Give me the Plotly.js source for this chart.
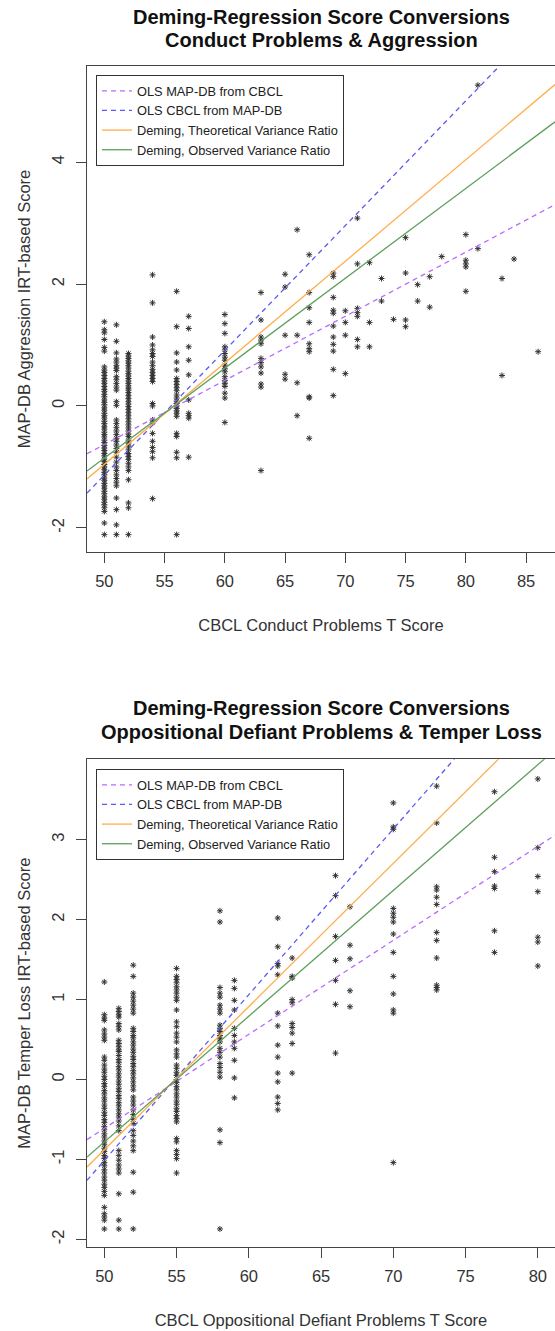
<!DOCTYPE html>
<html>
<head>
<meta charset="utf-8">
<script src="https://cdn.plot.ly/plotly-3.0.1.min.js"></script>
<style>html,body{margin:0;padding:0;overflow:hidden;background:#fff}</style>
</head>
<body>
<div id="chart" style="width:555px;height:1331px"></div>
<script>
// ---------- Panel 1: Conduct Problems & Aggression ----------
const cpCols = [50, 51, 52, 54, 56, 57, 60, 63, 65, 66, 67, 69, 70, 71, 72, 73, 74, 75, 76, 77, 78, 80, 81, 83, 84, 86];
const cpVals = [
  [1.38,1.25,1.20,1.09,0.96,0.90,0.64,0.59,0.55,0.50,0.45,0.41,0.37,0.32,0.27,0.24,0.19,0.15,0.10,0.06,0.02,-0.03,-0.07,-0.12,-0.16,-0.20,-0.25,-0.29,-0.34,-0.38,-0.43,-0.47,-0.51,-0.56,-0.60,-0.65,-0.69,-0.73,-0.78,-0.82,-0.87,-0.91,-0.96,-1.00,-1.04,-1.09,-1.13,-1.18,-1.22,-1.27,-1.31,-1.35,-1.40,-1.44,-1.49,-1.53,-1.58,-1.62,-1.67,-1.73,-1.92,-2.11],
  [1.33,1.06,0.87,0.77,0.72,0.66,0.62,0.58,0.48,0.43,0.37,0.31,0.26,0.07,0.01,-0.23,-0.29,-0.35,-0.41,-0.47,-0.53,-0.58,-0.64,-0.70,-0.76,-0.84,-0.92,-1.00,-1.06,-1.13,-1.19,-1.25,-1.31,-1.51,-1.70,-1.95,-2.11],
  [0.86,0.82,0.78,0.74,0.70,0.66,0.62,0.57,0.53,0.49,0.45,0.41,0.37,0.33,0.29,0.26,0.22,0.17,0.12,0.07,0.03,-0.01,-0.06,-0.11,-0.16,-0.21,-0.26,-0.31,-0.36,-0.41,-0.46,-0.50,-0.56,-0.61,-0.66,-0.72,-0.78,-0.83,-0.88,-0.94,-1.00,-1.06,-1.21,-1.59,-1.67,-2.11],
  [2.15,1.69,1.13,1.00,0.92,0.86,0.81,0.72,0.66,0.60,0.55,0.50,0.45,0.40,0.04,0.00,-0.23,-0.28,-0.45,-0.58,-0.68,-0.75,-0.85,-1.52],
  [1.88,1.30,0.87,0.72,0.59,0.45,0.40,0.35,0.30,0.25,0.18,0.13,0.08,0.04,0.00,-0.04,-0.08,-0.12,-0.17,-0.45,-0.50,-0.76,-0.85,-2.11],
  [1.47,1.27,0.97,0.75,0.51,0.10,-0.12,-0.16,-0.20,-0.84],
  [1.50,1.35,1.19,0.97,0.92,0.86,0.80,0.75,0.67,0.61,0.56,0.48,0.42,0.37,0.32,0.21,0.13,-0.27],
  [1.86,1.41,1.13,1.08,1.02,0.78,0.71,0.64,0.54,0.36,0.31,-1.06],
  [2.16,1.95,1.16,0.52,0.44],
  [2.89,1.16,0.38,-0.16],
  [2.48,1.86,1.61,1.37,1.02,0.94,0.89,0.15,0.13,-0.53],
  [2.18,2.12,1.78,1.57,1.52,1.31,1.13,1.01,0.90,0.60,0.17],
  [1.56,1.37,1.16,0.53],
  [3.08,2.33,1.60,1.53,1.47,1.09,0.97],
  [2.35,1.37,0.97],
  [2.09,1.72],
  [1.42],
  [2.76,2.18,1.41,1.30],
  [1.99,1.72],
  [2.12,1.62],
  [2.45],
  [2.81,2.39,2.33,2.28,1.88],
  [5.26,2.58],
  [2.09,0.50],
  [2.41],
  [0.89]
];
// regression lines: intercept / slope
const cpIntercepts = [-5.893, -11.364, -9.282, -8.224];
const cpSlopes     = [0.1052, 0.2046, 0.1665, 0.1474];
const cpXRange = [48.56, 87.40];
const cpYRange = [-2.395, 5.575];
const cpXTicks = [50, 55, 60, 65, 70, 75, 80, 85];
const cpYTicks = [-2, 0, 2, 4];

// ---------- Panel 2: Oppositional Defiant Problems & Temper Loss ----------
const odCols = [50, 51, 52, 55, 58, 59, 62, 63, 66, 67, 70, 73, 77, 80];
const odVals = [
  [1.22,0.81,0.77,0.74,0.62,0.57,0.53,0.49,0.28,0.24,0.18,0.13,0.09,0.04,0.00,-0.05,-0.09,-0.14,-0.18,-0.23,-0.27,-0.32,-0.36,-0.41,-0.45,-0.50,-0.54,-0.59,-0.63,-0.68,-0.72,-0.77,-0.81,-0.86,-0.90,-0.95,-0.99,-1.04,-1.08,-1.13,-1.17,-1.22,-1.26,-1.31,-1.35,-1.40,-1.45,-1.60,-1.68,-1.72,-1.76,-1.87],
  [0.89,0.85,0.81,0.78,0.70,0.66,0.62,0.49,0.45,0.41,0.37,0.35,0.30,0.25,0.21,0.16,0.12,0.07,0.03,-0.02,-0.06,-0.11,-0.15,-0.20,-0.24,-0.29,-0.33,-0.38,-0.43,-0.47,-0.52,-0.58,-0.64,-0.89,-0.95,-1.01,-1.07,-1.12,-1.17,-1.43,-1.76,-1.87],
  [1.43,1.29,1.08,1.03,0.98,0.93,0.88,0.83,0.64,0.60,0.55,0.52,0.47,0.43,0.38,0.34,0.29,0.25,0.20,0.16,0.11,0.07,0.02,-0.03,-0.08,-0.13,-0.22,-0.27,-0.32,-0.38,-0.44,-0.50,-0.55,-0.64,-0.70,-0.77,-0.83,-0.89,-1.16,-1.41,-1.87],
  [1.39,1.29,1.25,1.21,1.16,1.12,1.08,1.03,0.99,0.87,0.72,0.66,0.58,0.53,0.47,0.37,0.32,0.28,0.18,0.14,0.09,0.05,0.00,-0.04,-0.09,-0.13,-0.18,-0.22,-0.27,-0.31,-0.36,-0.40,-0.45,-0.49,-0.53,-0.74,-0.78,-0.89,-0.94,-0.99,-1.17],
  [2.11,1.97,1.15,1.08,1.03,0.93,0.88,0.83,0.68,0.64,0.60,0.55,0.51,0.47,0.39,0.34,0.28,0.20,0.15,0.09,0.03,-0.63,-0.79,-1.87],
  [1.24,1.14,0.99,0.87,0.64,0.55,0.47,0.39,0.24,0.02,-0.23],
  [2.02,1.66,1.45,1.42,1.31,0.83,0.67,0.43,0.28,0.08,-0.03,-0.22,-0.30,-0.38],
  [1.52,1.29,1.27,1.00,0.96,0.70,0.65,0.58,0.45,0.08],
  [2.55,2.30,1.79,1.49,1.24,0.94,0.33],
  [2.16,1.68,1.51,1.11,0.91],
  [3.46,3.16,3.13,2.14,2.08,2.03,1.97,1.82,1.59,1.29,1.07,0.87,0.83,-1.04],
  [3.67,3.21,2.41,2.37,2.28,2.19,1.84,1.74,1.52,1.18,1.15,1.12],
  [3.60,2.78,2.60,2.42,2.39,1.86,1.59],
  [3.76,2.90,2.54,2.35,1.78,1.72,1.42]
];
const odIntercepts = [-6.491, -11.383, -9.840, -8.646];
const odSlopes     = [0.1176, 0.2074, 0.1792, 0.1573];
const odXRange = [48.8, 81.19];
const odYRange = [-2.096, 4.006];
const odXTicks = [50, 55, 60, 65, 70, 75, 80];
const odYTicks = [-2, -1, 0, 1, 2, 3];

// ---------- shared labels / styles ----------
const lineNames  = ['OLS MAP-DB from CBCL', 'OLS CBCL from MAP-DB', 'Deming, Theoretical Variance Ratio', 'Deming, Observed Variance Ratio'];
const lineColors = ['#B86BFF', '#5A5AF5', '#FFAE4A', '#5E9F5E'];
const lineDash   = ['5px,4px', '5px,4px', 'solid', 'solid'];

const FONT = 'Liberation Sans, Arial, Helvetica, sans-serif';

function buildPanel(cols, vals, ints, slopes, xr, xa, ya, leg) {
  const xs = [], ys = [];
  cols.forEach((c, i) => vals[i].forEach(v => { xs.push(c); ys.push(v); }));
  const tr = [{
    type: 'scatter', mode: 'markers', x: xs, y: ys, xaxis: xa, yaxis: ya,
    showlegend: false, hoverinfo: 'x+y',
    marker: {symbol: 'asterisk-open', size: 5, color: '#333', line: {width: 1, color: '#2a2a2a'}}
  }];
  ints.forEach((a, k) => {
    tr.push({
      type: 'scatter', mode: 'lines', name: lineNames[k], legend: leg,
      x: [xr[0], xr[1]], y: [a + slopes[k] * xr[0], a + slopes[k] * xr[1]],
      xaxis: xa, yaxis: ya,
      line: {color: lineColors[k], width: 1.3, dash: lineDash[k]}
    });
  });
  return tr;
}

const data = [].concat(
  buildPanel(cpCols, cpVals, cpIntercepts, cpSlopes, cpXRange, 'x', 'y', 'legend'),
  buildPanel(odCols, odVals, odIntercepts, odSlopes, odXRange, 'x2', 'y2', 'legend2')
);

function xAxis(range, ticks, title, anchor) {
  return {
    anchor: anchor, domain: [0, 1], range: range, tickvals: ticks, ticktext: ticks.map(String),
    showline: true, mirror: true, linecolor: '#444', linewidth: 1,
    ticks: 'outside', ticklen: 10, tickwidth: 1, tickcolor: '#444', ticklabelstandoff: 4,
    showgrid: false, zeroline: false,
    tickfont: {family: FONT, size: 16.5, color: '#333'},
    title: {text: title, font: {family: FONT, size: 16.5, color: '#333'}, standoff: 30}
  };
}
function yAxis(range, ticks, title, domain, anchor) {
  return {
    anchor: anchor, domain: domain, range: range, tickvals: ticks, ticktext: ticks.map(String),
    showline: true, mirror: false, linecolor: '#444', linewidth: 1,
    ticks: 'outside', ticklen: 10, tickwidth: 1, tickcolor: '#444', tickangle: -90, ticklabelstandoff: 5,
    showgrid: false, zeroline: false,
    tickfont: {family: FONT, size: 16.5, color: '#333'},
    title: {text: title, font: {family: FONT, size: 16.5, color: '#333'}, standoff: 14}
  };
}

const H = 1331, T = 66, B = 84;
const paperY = px => (H - B - px) / (H - T - B);

const legendStyle = (ytop) => ({
  x: 0.0192, y: ytop, xanchor: 'left', yanchor: 'top',
  bgcolor: 'white', bordercolor: '#333', borderwidth: 1,
  font: {family: FONT, size: 12.8, color: '#222'}, tracegroupgap: 0
});

const titleAnn = (text, px) => ({
  text: '<b>' + text + '</b>', xref: 'paper', yref: 'paper', x: 0.5, y: paperY(px),
  xanchor: 'center', yanchor: 'middle', showarrow: false,
  font: {family: FONT, size: 20, color: '#111'}
});

const layout = {
  width: 555, height: H,
  margin: {l: 87, r: 0, t: T, b: B},
  paper_bgcolor: 'white', plot_bgcolor: 'white',
  showlegend: true,
  xaxis: xAxis(cpXRange, cpXTicks, 'CBCL Conduct Problems T Score', 'y'),
  yaxis: yAxis(cpYRange, cpYTicks, 'MAP-DB Aggression IRT-based Score', [paperY(552), 1], 'x'),
  xaxis2: xAxis(odXRange, odXTicks, 'CBCL Oppositional Defiant Problems T Score', 'y2'),
  yaxis2: yAxis(odYRange, odYTicks, 'MAP-DB Temper Loss IRT-based Score', [0, paperY(759.3)], 'x2'),
  legend: legendStyle(paperY(75)),
  legend2: legendStyle(paperY(769)),
  annotations: [
    titleAnn('Deming-Regression Score Conversions', 17),
    titleAnn('Conduct Problems &amp; Aggression', 40),
    titleAnn('Deming-Regression Score Conversions', 708),
    titleAnn('Oppositional Defiant Problems &amp; Temper Loss', 732)
  ]
};

Plotly.newPlot('chart', data, layout, {staticPlot: true, displayModeBar: false});
</script>
</body>
</html>
